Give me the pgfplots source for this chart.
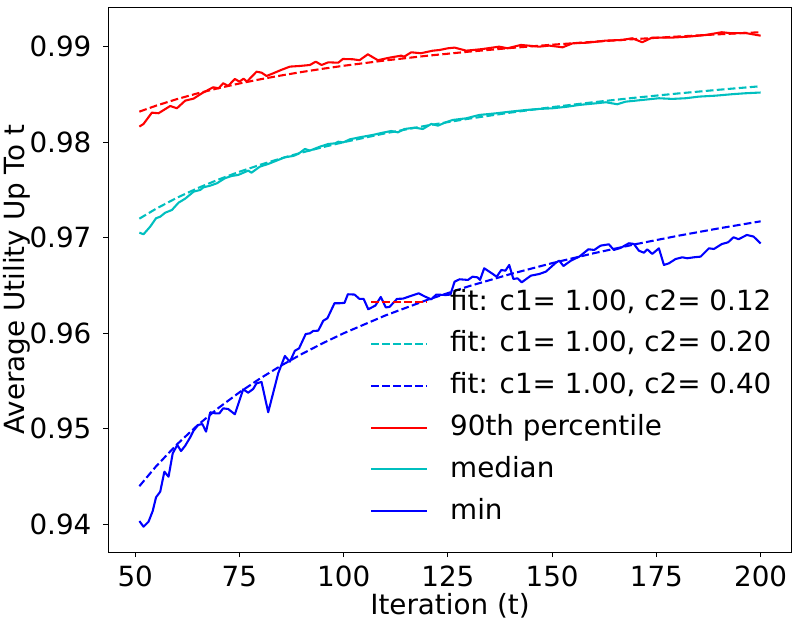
\documentclass[border=0pt]{standalone}
\usepackage{fontspec}
\setmainfont{DejaVu Sans}
\usepackage{pgfplots}
\usepackage{pgfplotstable}
\pgfplotsset{compat=1.18}
\definecolor{mplc}{rgb}{0,0.75,0.75}

\pgfplotstableread{
t v
51 0.983197
55 0.983819
60 0.984508
65 0.985116
70 0.985657
75 0.986144
80 0.986584
85 0.986984
90 0.987351
95 0.987688
100 0.988000
110 0.988558
120 0.989046
130 0.989475
140 0.989858
150 0.990202
160 0.990513
170 0.990796
180 0.991056
190 0.991294
200 0.991515
}\fitred

\pgfplotstableread{
t v
51 0.971994
55 0.973032
60 0.974180
65 0.975193
70 0.976095
75 0.976906
80 0.977639
85 0.978307
90 0.978918
95 0.979480
100 0.980000
110 0.980931
120 0.981743
130 0.982459
140 0.983097
150 0.983670
160 0.984189
170 0.984661
180 0.985093
190 0.985490
200 0.985858
}\fitcyan

\pgfplotstableread{
t v
51 0.943989
55 0.946064
60 0.948360
65 0.950386
70 0.952191
75 0.953812
80 0.955279
85 0.956614
90 0.957836
95 0.958961
100 0.960000
110 0.961862
120 0.963485
130 0.964918
140 0.966194
150 0.967340
160 0.968377
170 0.969322
180 0.970186
190 0.970981
200 0.971716
}\fitblue

\pgfplotstableread{
t v
51 0.98163
52 0.98191
54 0.98309
55.6 0.98303
58.4 0.98379
60 0.98355
62 0.98435
64 0.98456
66 0.98512
68.7 0.98575
70 0.98564
71.1 0.98617
72.3 0.98589
73.9 0.98662
75 0.98634
76 0.98665
76.8 0.98634
79.1 0.98738
80.3 0.98728
81.5 0.98693
83.1 0.98721
85 0.98756
87.1 0.98791
89.5 0.98798
91.9 0.98808
93.3 0.98843
94.7 0.98808
96.3 0.98836
98.7 0.98832
99.8 0.98871
102.2 0.98868
103.8 0.98858
105.8 0.98920
108.2 0.98858
111 0.98885
113.8 0.98906
114.5 0.98895
116.2 0.98941
118.5 0.98931
121.4 0.98958
123 0.98965
125 0.98983
126.6 0.98990
129.4 0.98958
133.3 0.98975
137.3 0.99000
139.3 0.98983
142.5 0.99018
146.9 0.99000
149.3 0.99011
152.5 0.98993
154.9 0.99035
158.5 0.99042
162.8 0.99063
166.8 0.99070
169.2 0.99088
171.6 0.99046
174 0.99095
178.8 0.99095
182.8 0.99105
186.8 0.99122
190.7 0.99151
193.1 0.99140
196.3 0.99143
200 0.99115
}\datared

\pgfplotstableread{
t v
51 0.97053
52 0.97036
53.6 0.97116
55 0.97204
56 0.97220
57.2 0.97262
58.8 0.97290
60.4 0.97367
62 0.97409
64 0.97482
65.6 0.97500
66.4 0.97528
68 0.97545
69.6 0.97570
71.5 0.97622
73.1 0.97646
74.7 0.97657
77.1 0.97702
77.9 0.97681
79.9 0.97744
81.9 0.97772
83.9 0.97807
85.9 0.97842
87.9 0.97856
89.1 0.97877
90.7 0.97929
91.9 0.97912
94.3 0.97953
96.3 0.97981
97.9 0.97988
98.7 0.98005
99.9 0.97998
101.5 0.98030
103.8 0.98051
107 0.98076
109.4 0.98100
111.4 0.98117
113 0.98103
114.6 0.98138
117 0.98152
119 0.98138
121 0.98191
122.6 0.98173
124.6 0.98210
126.2 0.98233
129.4 0.98250
132.5 0.98285
136.5 0.98302
140 0.98320
143.7 0.98337
146.9 0.98348
150.1 0.98355
153.7 0.98372
156.5 0.98390
160.5 0.98407
162.9 0.98418
165.6 0.98397
167.6 0.98424
171.6 0.98442
175.6 0.98460
178.8 0.98453
182 0.98460
185.2 0.98477
189.2 0.98487
193.1 0.98502
196.3 0.98512
200 0.98520
}\datacyan

\pgfplotstableread{
t v
51 0.94034
52 0.93975
53.2 0.94027
54.2 0.94139
55 0.94283
56 0.94341
57 0.94551
58 0.94498
59 0.94743
60.1 0.94830
61 0.94767
62 0.94823
63.2 0.94911
64 0.94980
65.1 0.95040
66.1 0.95050
67 0.94970
68 0.95173
69.2 0.95162
70.2 0.95162
71.1 0.95214
72.3 0.95207
73.9 0.95152
75.9 0.95413
77.1 0.95378
78.3 0.95417
79.1 0.95476
80.3 0.95490
81.9 0.95173
84.3 0.95581
85.9 0.95762
87.1 0.95702
88.3 0.95817
89.3 0.95842
90.9 0.95992
91.9 0.95999
92.7 0.96024
93.9 0.96027
95.1 0.96131
96.1 0.96157
97.8 0.96314
99 0.96314
100.2 0.96318
101 0.96408
102.6 0.96405
103.8 0.96359
104.8 0.96359
105.9 0.96251
107.6 0.96290
108.9 0.96380
110.1 0.96270
111 0.96276
112.8 0.96360
114.2 0.96362
115.8 0.96386
118 0.96418
119.4 0.96386
121 0.96355
122.2 0.96405
124.5 0.96400
125.6 0.96405
126.6 0.96540
127.8 0.96565
129.8 0.96558
130.9 0.96592
132.1 0.96585
132.7 0.96558
133.7 0.96680
135.3 0.96634
136.7 0.96592
137.8 0.96662
138.8 0.96655
139.7 0.96715
140.7 0.96568
141.7 0.96575
142.7 0.96533
144.9 0.96603
146.9 0.96620
148.5 0.96645
150.9 0.96739
151.7 0.96760
152.7 0.96704
154.5 0.96760
156.5 0.96802
158.7 0.96879
160.1 0.96872
161.6 0.96917
163.6 0.96931
164.8 0.96872
166.4 0.96893
168.4 0.96942
169.6 0.96935
170.8 0.96864
172 0.96843
172.8 0.96879
174 0.96830
175.6 0.96889
176.8 0.96715
178 0.96732
179.6 0.96777
181.2 0.96795
182.4 0.96785
184 0.96795
185.6 0.96802
187.6 0.96889
188.8 0.96882
190.7 0.96934
192.2 0.96952
193.5 0.97005
194.7 0.96984
196.7 0.97029
198.3 0.97012
200 0.96940
}\datablue

\begin{document}
\fontsize{27.8bp}{33bp}\selectfont
\begin{tikzpicture}
\path[use as bounding box] (-108.3bp,-67.7bp) rectangle (690.7bp,552.3bp);
\begin{axis}[
  at={(0,0)}, anchor=south west,
  scale only axis, width=683.4bp, height=545bp,
  xmin=43.55, xmax=207.45, ymin=0.93707, ymax=0.99412,
  xtick={50,75,100,125,150,175,200},
  ytick={0.94,0.95,0.96,0.97,0.98,0.99},
  scaled y ticks=false,
  /pgf/number format/assume math mode=true,
  yticklabel style={/pgf/number format/.cd, fixed, fixed zerofill, precision=2, /tikz/.cd, anchor=east, inner sep=0pt, xshift=-11.8bp},
  xticklabel style={anchor=base, inner sep=0pt, yshift=-29.3bp},
  tick align=outside, tick pos=left,
  major tick length=4.86bp,
  every tick/.style={black, line width=1.11bp},
  axis line style={line width=1.11bp},
  xlabel={Iteration (t)},
  ylabel={Average Utility Up To t},
  xlabel style={at={(axis description cs:0.5,-0.1138)}, anchor=base, inner sep=0pt},
  ylabel style={at={(axis description cs:-0.1219,0.5)}, anchor=base, inner sep=0pt},
  legend cell align=left,
  legend style={draw=none, fill=none, inner sep=0pt, at={(0.38294,0.48312)}, anchor=north west,
    row sep=15.8bp, column sep=22.3bp,
    nodes={inner sep=0pt, text height=21bp, text depth=5bp}},
  legend image code/.code={\draw[#1] (0bp,0bp) -- (55.6bp,0bp);},
  every axis plot/.append style={line width=2.08bp, line join=round, no markers},
]
\addplot[red, dash pattern=on 7.71bp off 3.33bp] table[x=t,y=v] {\fitred};
\addlegendentry{fit: c1= 1.00, c2= 0.12}
\addplot[mplc, dash pattern=on 7.71bp off 3.33bp] table[x=t,y=v] {\fitcyan};
\addlegendentry{fit: c1= 1.00, c2= 0.20}
\addplot[blue, dash pattern=on 7.71bp off 3.33bp] table[x=t,y=v] {\fitblue};
\addlegendentry{fit: c1= 1.00, c2= 0.40}
\addplot[red] table[x=t,y=v] {\datared};
\addlegendentry{90th percentile}
\addplot[mplc] table[x=t,y=v] {\datacyan};
\addlegendentry{median}
\addplot[blue] table[x=t,y=v] {\datablue};
\addlegendentry{min}
\end{axis}
\end{tikzpicture}
\end{document}
